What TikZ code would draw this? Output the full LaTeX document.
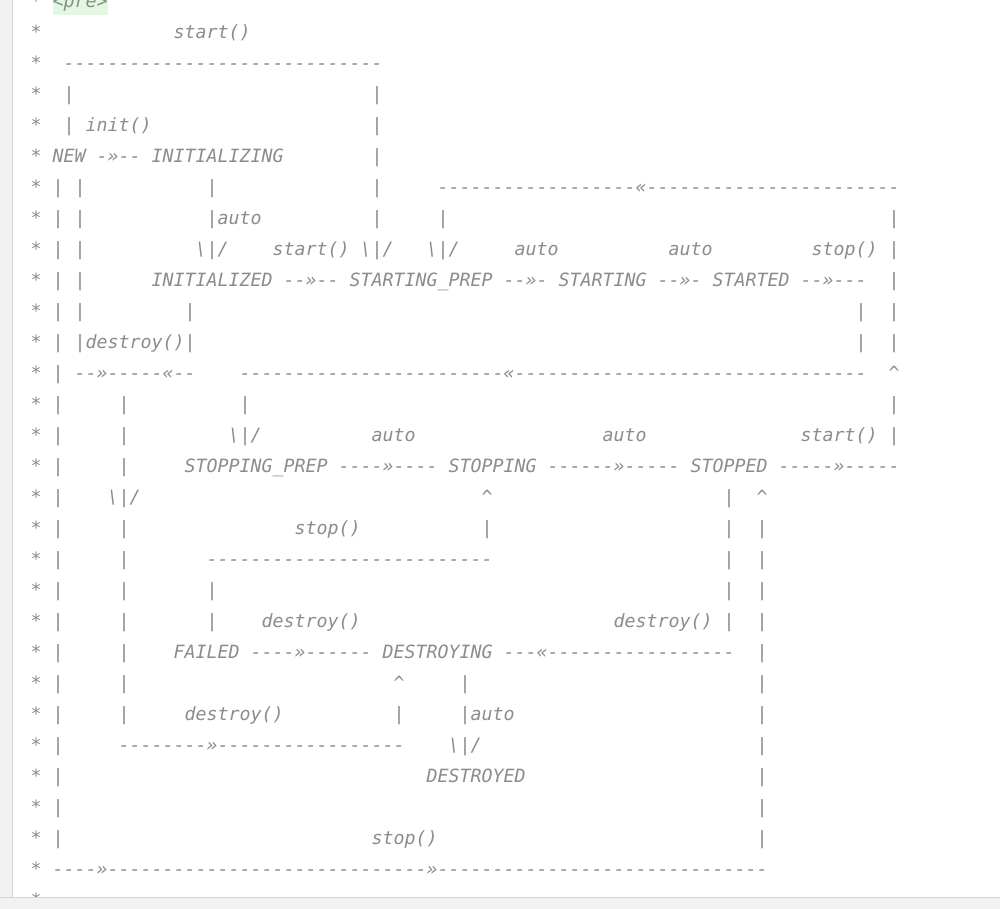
\documentclass[tikz,border=0pt]{standalone}
\usepackage{fontspec}
\setmonofont{DejaVu Sans Mono}

\definecolor{codegray}{HTML}{8C8C8C}
\definecolor{gutter}{HTML}{F2F2F2}
\definecolor{edge}{HTML}{D4D4D4}
\definecolor{pregreen}{HTML}{E0F9E0}

% one column of the editor is 11px wide
\newlength\cw
\setlength\cw{11pt}
\newcommand\pad[1]{\hspace*{#1\cw}}
\newcommand\dashes[1]{\foreach\k in {1,...,#1}{-}}
\newcommand\dnarr{\textbackslash|/}
\newcommand\uptick{\textasciicircum}

\tikzset{codeline/.style={anchor=base west, inner sep=0pt, text=codegray,
    font=\fontsize{18.27}{31}\selectfont\ttfamily\itshape}}

\begin{document}
\begin{tikzpicture}[x=1pt,y=-1pt]
\useasboundingbox (0,0) rectangle (1000,909);
\fill[white] (0,0) rectangle (1000,909);
\fill[gutter] (0,0) rectangle (12,909);
\draw[edge] (12.5,0) -- (12.5,909);
\fill[pregreen] (52.5,0) rectangle (107.5,15.5);

\begin{scope}[y=-31pt,yshift=-7.3pt]
\node[codeline] (l0) at (30.5,0) {* <pre>};
\node[codeline] (l1) at (30.5,1) {*\pad{12}start()};
\node[codeline] (l2) at (30.5,2) {*\pad{2}\dashes{29}};
\node[codeline] (l3) at (30.5,3) {*\pad{2}|\pad{27}|};
\node[codeline] (l4) at (30.5,4) {*\pad{2}| init()\pad{20}|};
\node[codeline] (l5) at (30.5,5) {* NEW -»-- INITIALIZING\pad{8}|};
\node[codeline] (l6) at (30.5,6) {* | |\pad{11}|\pad{14}|\pad{5}\dashes{18}«\dashes{23}};
\node[codeline] (l7) at (30.5,7) {* | |\pad{11}|auto\pad{10}|\pad{5}|\pad{40}|};
\node[codeline] (l8) at (30.5,8) {* | |\pad{10}\dnarr\pad{4}start() \dnarr\pad{3}\dnarr\pad{5}auto\pad{10}auto\pad{9}stop() |};
\node[codeline] (l9) at (30.5,9) {* | |\pad{6}INITIALIZED --»-- STARTING\_PREP --»- STARTING --»- STARTED --»---\pad{2}|};
\node[codeline] (l10) at (30.5,10) {* | |\pad{9}|\pad{60}|\pad{2}|};
\node[codeline] (l11) at (30.5,11) {* | |destroy()|\pad{60}|\pad{2}|};
\node[codeline] (l12) at (30.5,12) {* | --»-----«--\pad{4}\dashes{24}«\dashes{32}\pad{2}\uptick};
\node[codeline] (l13) at (30.5,13) {* |\pad{5}|\pad{10}|\pad{58}|};
\node[codeline] (l14) at (30.5,14) {* |\pad{5}|\pad{9}\dnarr\pad{10}auto\pad{17}auto\pad{14}start() |};
\node[codeline] (l15) at (30.5,15) {* |\pad{5}|\pad{5}STOPPING\_PREP ----»---- STOPPING ------»----- STOPPED -----»-----};
\node[codeline] (l16) at (30.5,16) {* |\pad{4}\dnarr\pad{31}\uptick\pad{21}|\pad{2}\uptick};
\node[codeline] (l17) at (30.5,17) {* |\pad{5}|\pad{15}stop()\pad{11}|\pad{21}|\pad{2}|};
\node[codeline] (l18) at (30.5,18) {* |\pad{5}|\pad{7}\dashes{26}\pad{21}|\pad{2}|};
\node[codeline] (l19) at (30.5,19) {* |\pad{5}|\pad{7}|\pad{46}|\pad{2}|};
\node[codeline] (l20) at (30.5,20) {* |\pad{5}|\pad{7}|\pad{4}destroy()\pad{23}destroy() |\pad{2}|};
\node[codeline] (l21) at (30.5,21) {* |\pad{5}|\pad{4}FAILED ----»------ DESTROYING ---«\dashes{17}\pad{2}|};
\node[codeline] (l22) at (30.5,22) {* |\pad{5}|\pad{24}\uptick\pad{5}|\pad{26}|};
\node[codeline] (l23) at (30.5,23) {* |\pad{5}|\pad{5}destroy()\pad{10}|\pad{5}|auto\pad{22}|};
\node[codeline] (l24) at (30.5,24) {* |\pad{5}\dashes{8}»\dashes{17}\pad{4}\dnarr\pad{25}|};
\node[codeline] (l25) at (30.5,25) {* |\pad{33}DESTROYED\pad{21}|};
\node[codeline] (l26) at (30.5,26) {* |\pad{63}|};
\node[codeline] (l27) at (30.5,27) {* |\pad{28}stop()\pad{29}|};
\node[codeline] (l28) at (30.5,28) {* ----»\dashes{29}»\dashes{30}};
\node[codeline] (l29) at (30.5,29) {*};
\end{scope}

% status bar at the bottom
\fill[gutter] (0,898) rectangle (1000,909);
\draw[edge] (0,897.5) -- (1000,897.5);
\end{tikzpicture}
\end{document}
